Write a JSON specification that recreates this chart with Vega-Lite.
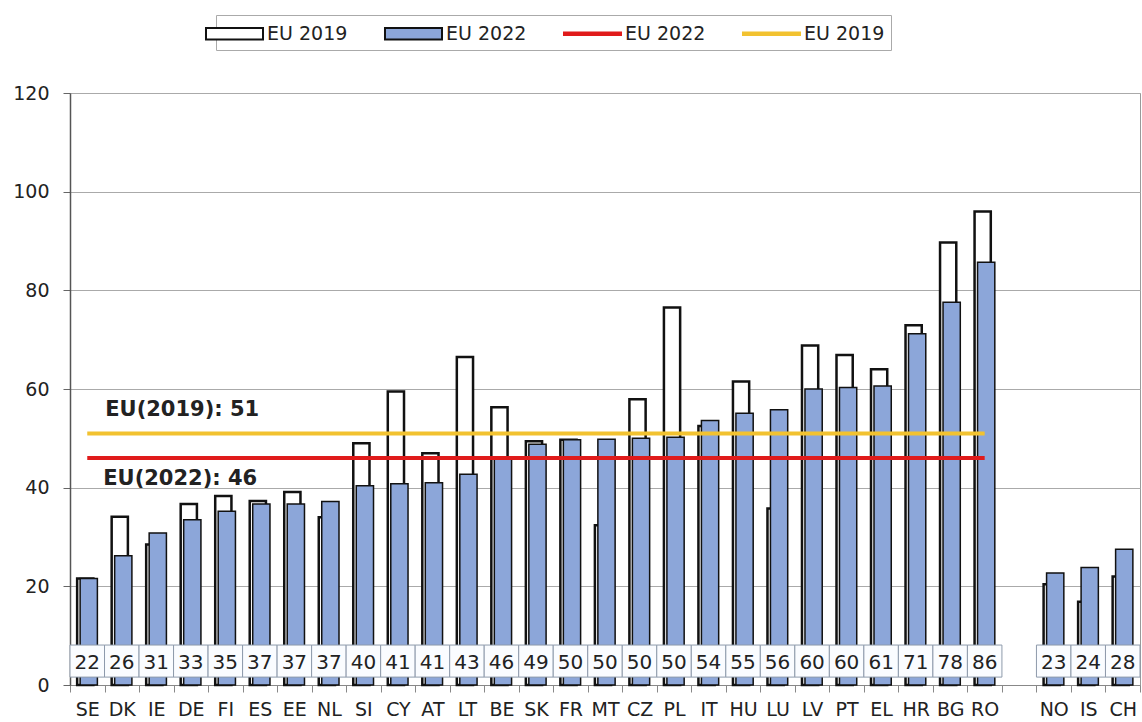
{
  "$schema": "https://vega.github.io/schema/vega-lite/v6.json",
  "width": 1070,
  "height": 592,
  "autosize": "none",
  "padding": {"left": 70, "top": 93, "right": 2, "bottom": 37},
  "background": "white",
  "config": {"view": {"stroke": "#999", "strokeWidth": 1}, "font": "DejaVu Sans"},
  "data": {
    "values": [
      {"country": "SE", "y2019": 21.6, "y2022": 21.6, "label": "22"},
      {"country": "DK", "y2019": 34.1, "y2022": 26.2, "label": "26"},
      {"country": "IE", "y2019": 28.5, "y2022": 30.8, "label": "31"},
      {"country": "DE", "y2019": 36.7, "y2022": 33.5, "label": "33"},
      {"country": "FI", "y2019": 38.3, "y2022": 35.2, "label": "35"},
      {"country": "ES", "y2019": 37.3, "y2022": 36.7, "label": "37"},
      {"country": "EE", "y2019": 39.1, "y2022": 36.7, "label": "37"},
      {"country": "NL", "y2019": 34.0, "y2022": 37.2, "label": "37"},
      {"country": "SI", "y2019": 49.0, "y2022": 40.4, "label": "40"},
      {"country": "CY", "y2019": 59.5, "y2022": 40.8, "label": "41"},
      {"country": "AT", "y2019": 47.0, "y2022": 41.0, "label": "41"},
      {"country": "LT", "y2019": 66.5, "y2022": 42.7, "label": "43"},
      {"country": "BE", "y2019": 56.3, "y2022": 46.0, "label": "46"},
      {"country": "SK", "y2019": 49.4, "y2022": 48.8, "label": "49"},
      {"country": "FR", "y2019": 49.7, "y2022": 49.7, "label": "50"},
      {"country": "MT", "y2019": 32.4, "y2022": 49.8, "label": "50"},
      {"country": "CZ", "y2019": 57.9, "y2022": 50.0, "label": "50"},
      {"country": "PL", "y2019": 76.5, "y2022": 50.2, "label": "50"},
      {"country": "IT", "y2019": 52.5, "y2022": 53.6, "label": "54"},
      {"country": "HU", "y2019": 61.5, "y2022": 55.1, "label": "55"},
      {"country": "LU", "y2019": 35.8, "y2022": 55.8, "label": "56"},
      {"country": "LV", "y2019": 68.8, "y2022": 60.0, "label": "60"},
      {"country": "PT", "y2019": 66.9, "y2022": 60.3, "label": "60"},
      {"country": "EL", "y2019": 64.0, "y2022": 60.6, "label": "61"},
      {"country": "HR", "y2019": 72.9, "y2022": 71.2, "label": "71"},
      {"country": "BG", "y2019": 89.7, "y2022": 77.6, "label": "78"},
      {"country": "RO", "y2019": 96.0, "y2022": 85.7, "label": "86"},
      {"country": "NO", "y2019": 20.4, "y2022": 22.7, "label": "23"},
      {"country": "IS", "y2019": 16.9, "y2022": 23.8, "label": "24"},
      {"country": "CH", "y2019": 22.0, "y2022": 27.5, "label": "28"}
    ]
  },
  "encoding": {
    "x": {
      "field": "country",
      "type": "nominal",
      "sort": null,
      "scale": {
        "domain": ["SE","DK","IE","DE","FI","ES","EE","NL","SI","CY","AT","LT","BE","SK","FR","MT","CZ","PL","IT","HU","LU","LV","PT","EL","HR","BG","RO"," ","NO","IS","CH"],
        "paddingInner": 0,
        "paddingOuter": 0
      },
      "axis": {
        "title": null,
        "labelAngle": 0,
        "labelFont": "DejaVu Sans",
        "labelFontSize": 19,
        "labelColor": "#222",
        "labelOverlap": false,
        "labelPadding": 8,
        "tickBand": "extent",
        "tickSize": 7,
        "tickColor": "#888",
        "domainColor": "#888",
        "grid": false
      }
    }
  },
  "layer": [
    {
      "mark": {"type": "bar", "fill": "#ffffff", "stroke": "#111", "strokeWidth": 2.5, "width": {"band": 0.47}, "xOffset": -2},
      "encoding": {
        "y": {
          "field": "y2019",
          "type": "quantitative",
          "scale": {"domain": [0, 120], "nice": false},
          "axis": {
            "title": null,
            "values": [0, 20, 40, 60, 80, 100, 120],
            "labelFont": "DejaVu Sans",
            "labelFontSize": 19,
            "labelColor": "#222",
            "labelPadding": 14,
            "tickSize": 7,
            "tickColor": "#666",
            "gridColor": "#aaa",
            "domainColor": "#555",
            "domainWidth": 1.5
          }
        }
      }
    },
    {
      "mark": {"type": "bar", "fill": "#8ca6d9", "stroke": "#111", "strokeWidth": 1.5, "width": {"band": 0.5}, "xOffset": 1.5},
      "encoding": {
        "y": {"field": "y2022", "type": "quantitative"}
      }
    },
    {
      "data": {"values": [{"key": "l2019", "value": 51}, {"key": "l2022", "value": 46}]},
      "mark": {"type": "rule", "strokeWidth": 4},
      "encoding": {
        "x": {"datum": "SE"},
        "x2": {"datum": "RO"},
        "y": {"field": "value", "type": "quantitative"},
        "color": {"field": "key", "type": "nominal", "legend": null, "scale": {"domain": ["l2022", "l2019"], "range": ["#e01b1b", "#f2c230"]}}
      }
    },
    {
      "mark": {"type": "bar", "fill": "#fafcff", "stroke": "#8e9aab", "strokeWidth": 1},
      "encoding": {
        "y": {"datum": 1.6},
        "y2": {"datum": 8.1}
      }
    },
    {
      "mark": {"type": "text", "font": "DejaVu Sans", "fontSize": 20, "fill": "#222", "baseline": "middle"},
      "encoding": {
        "y": {"datum": 4.4},
        "text": {"field": "label"}
      }
    },
    {
      "data": {"values": [{"caption": "EU(2019): 51"}]},
      "mark": {"type": "text", "font": "DejaVu Sans", "fontSize": 21, "fontWeight": "bold", "fill": "#222", "align": "left", "baseline": "middle", "dx": 18},
      "encoding": {
        "x": {"datum": "SE"},
        "y": {"datum": 55.8},
        "text": {"field": "caption"}
      }
    },
    {
      "data": {"values": [{"caption": "EU(2022): 46"}]},
      "mark": {"type": "text", "font": "DejaVu Sans", "fontSize": 21, "fontWeight": "bold", "fill": "#222", "align": "left", "baseline": "middle", "dx": 16},
      "encoding": {
        "x": {"datum": "SE"},
        "y": {"datum": 41.8},
        "text": {"field": "caption"}
      }
    },
    {
      "data": {"values": [{"key": "b2019"}, {"key": "b2022"}, {"key": "l2022"}, {"key": "l2019"}]},
      "mark": {"type": "point", "clip": true, "opacity": 1, "filled": false},
      "encoding": {
        "x": {"datum": "SE"},
        "y": {"datum": -50},
        "fill": {
          "field": "key",
          "type": "nominal",
          "title": null,
          "scale": {"domain": ["b2019", "b2022", "l2022", "l2019"], "range": ["#ffffff", "#8ca6d9", "#e01b1b", "#f2c230"]},
          "legend": {
            "orient": "none",
            "legendX": 146,
            "legendY": -78,
            "direction": "horizontal",
            "columns": 4,
            "title": null,
            "labelFont": "DejaVu Sans",
            "labelFontSize": 19,
            "labelColor": "#222",
            "symbolSize": 520,
            "symbolOpacity": 1,
            "symbolStrokeWidth": 2,
            "labelOffset": 20,
            "columnPadding": 32,
            "padding": 6,
            "strokeColor": "#aaa",
            "fillColor": "white",
            "labelExpr": "datum.value === 'b2019' || datum.value === 'l2019' ? 'EU 2019' : 'EU 2022'"
          }
        },
        "stroke": {
          "field": "key",
          "type": "nominal",
          "title": null,
          "scale": {"domain": ["b2019", "b2022", "l2022", "l2019"], "range": ["#111111", "#111111", "#e01b1b", "#f2c230"]}
        },
        "shape": {
          "field": "key",
          "type": "nominal",
          "title": null,
          "scale": {"domain": ["b2019", "b2022", "l2022", "l2019"], "range": ["M-2.5,-0.5H2.5V0.5H-2.5Z", "M-2.5,-0.5H2.5V0.5H-2.5Z", "M-2.5,-0.12H2.5V0.12H-2.5Z", "M-2.5,-0.12H2.5V0.12H-2.5Z"]}
        }
      }
    }
  ]
}
